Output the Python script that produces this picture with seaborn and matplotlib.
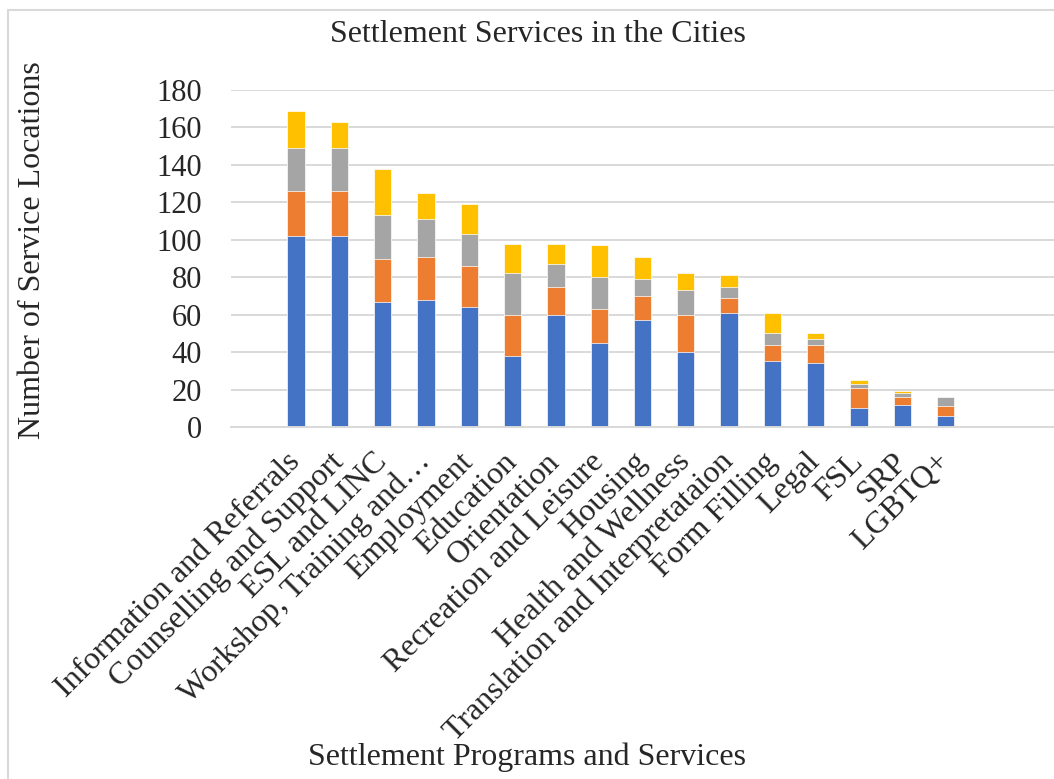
import numpy as np
import pandas as pd
import matplotlib.pyplot as plt
import seaborn as sns
from matplotlib.patches import Rectangle

sns.set_style('white')
plt.rcParams['font.family'] = ['Liberation Serif', 'DejaVu Serif']

services = ['Information and Referrals', 'Counselling and Support',
            'ESL and LINC', 'Workshop, Training and\u2026', 'Employment',
            'Education', 'Orientation', 'Recreation and Leisure', 'Housing',
            'Health and Wellness', 'Translation and Interpretataion',
            'Form Filling', 'Legal', 'FSL', 'SRP', 'LGBTQ+']
series_names = ['City 1', 'City 2', 'City 3', 'City 4']
city_1 = [102, 102, 67, 68, 64, 38, 60, 45, 57, 40, 61, 35, 34, 10, 12, 6]
city_2 = [24, 24, 23, 23, 22, 22, 15, 18, 13, 20, 8, 9, 10, 11, 4, 5]
city_3 = [23, 23, 23, 20, 17, 22, 12, 17, 9, 13, 6, 6, 3, 2, 2, 5]
city_4 = [20, 14, 25, 14, 16, 16, 11, 17, 12, 9, 6, 11, 3, 2, 1, 0]
colors = ['#4472C4', '#ED7D31', '#A5A5A5', '#FFC000']

df = pd.DataFrame({'service': services, 'City 1': city_1, 'City 2': city_2,
                   'City 3': city_3, 'City 4': city_4})
# running totals for stacking
cum = df[series_names].cumsum(axis=1)

W, H = 1054, 779
fig = plt.figure(figsize=(W / 100, H / 100), dpi=100)
ax = fig.add_axes([231 / W, 1 - 427 / H, 823 / W, 337 / H])

# draw tallest stack first so lower segments sit on top
for name, col in reversed(list(zip(series_names, colors))):
    sns.barplot(x=df['service'], y=cum[name], color=col, width=0.4,
                saturation=1, edgecolor='white', linewidth=0.5, ax=ax,
                order=services)

ax.set_xlim(-1.5, 17.5)
ax.set_ylim(0, 180)
ax.set_yticks(np.arange(0, 181, 20))
ax.grid(axis='y', color='#d9d9d9', lw=1.4)
ax.set_axisbelow(True)
sns.despine(ax=ax, left=True, top=True, right=True)
ax.spines['bottom'].set_color('#d9d9d9')
ax.spines['bottom'].set_linewidth(1.4)
ax.tick_params(axis='both', length=0)
ax.tick_params(axis='y', pad=21, labelsize=22)
ax.tick_params(axis='x', pad=22, labelsize=23)
for lab in ax.get_xticklabels():
    lab.set_rotation(45)
    lab.set_ha('right')
    lab.set_va('center')
    lab.set_rotation_mode('anchor')
ax.set_xlabel('')
ax.set_ylabel('')

fig.text(538 / W, 1 - 34 / H, 'Settlement Services in the Cities',
         ha='center', va='center', fontsize=23)
fig.text(33 / W, 1 - 250 / H, 'Number of Service Locations', rotation=90,
         ha='center', va='center', fontsize=23)
fig.text(527 / W, 1 - 757 / H, 'Settlement Programs and Services',
         ha='center', va='center', fontsize=23)

fig.patches.append(Rectangle((8 / W, -0.1), 1.2, 1.1 - 10 / H,
                             transform=fig.transFigure, fill=False,
                             edgecolor='#d9d9d9', lw=1.5))

fig.savefig('out.png', dpi=100)
